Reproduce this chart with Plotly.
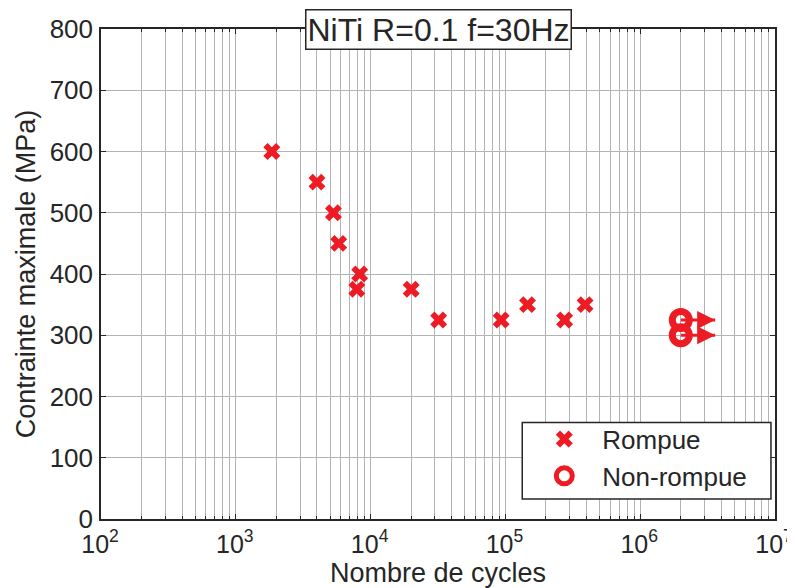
import plotly.graph_objects as go

# Broken specimens (Rompue)
cycles_rompue = [1.85e3, 4.0e3, 5.3e3, 5.8e3, 8.3e3, 7.9e3, 2.0e4, 3.2e4, 9.3e4, 1.46e5, 2.75e5, 3.9e5]
stress_rompue = [600, 550, 500, 450, 400, 375, 375, 325, 325, 350, 325, 350]

# Run-outs (Non-rompue)
cycles_runout = [2.0e6, 2.0e6]
stress_runout = [325, 300]
arrow_factor = 1.8  # arrow end position relative to run-out cycles

x_major = [1e2, 1e3, 1e4, 1e5, 1e6, 1e7]
x_major_text = ["10<sup>2</sup>", "10<sup>3</sup>", "10<sup>4</sup>", "10<sup>5</sup>", "10<sup>6</sup>", "10<sup>7</sup>"]
y_ticks = [0, 100, 200, 300, 400, 500, 600, 700, 800]

RED = "rgb(237,28,36)"
TXT = "#262626"
GRID = "#b3b3b3"
FONT = "Liberation Sans, Arial, Helvetica, sans-serif"

x_minor = [m * 10 ** e for e in range(2, 7) for m in range(2, 10)]

fig = go.Figure()

# arrow lines for run-outs
lx, ly = [], []
for c, s in zip(cycles_runout, stress_runout):
    lx += [c, c * arrow_factor, None]
    ly += [s, s, None]
fig.add_trace(go.Scatter(x=lx, y=ly, mode="lines", line=dict(color=RED, width=3),
                         showlegend=False, hoverinfo="skip"))
fig.add_trace(go.Scatter(x=[c * arrow_factor for c in cycles_runout], y=stress_runout,
                         mode="markers", marker=dict(symbol="arrow-right", size=18, color=RED),
                         showlegend=False, hoverinfo="skip"))

fig.add_trace(go.Scatter(x=cycles_rompue, y=stress_rompue, mode="markers", name="Rompue",
                         marker=dict(symbol="x", size=15, color=RED, line=dict(width=0))))
fig.add_trace(go.Scatter(x=cycles_runout, y=stress_runout, mode="markers", name="Non-rompue",
                         marker=dict(symbol="circle-open", size=17, color=RED, line=dict(width=7, color=RED))))

axis_common = dict(
    showline=True, linecolor=TXT, linewidth=1.5, mirror="allticks",
    ticks="inside", ticklen=5, tickcolor=TXT, automargin=False,
    showgrid=True, gridcolor=GRID, gridwidth=1,
    zeroline=False,
)

fig.update_xaxes(type="log", range=[2, 7], tickvals=x_major, ticktext=x_major_text,
                 minor=dict(tickvals=x_minor, ticks="inside", ticklen=3, tickcolor=TXT,
                            showgrid=True, gridcolor=GRID, gridwidth=1),
                 tickfont=dict(size=25, color=TXT, family=FONT),
                 title=dict(text="Nombre de cycles", font=dict(size=27, color=TXT, family=FONT), standoff=8),
                 ticklabelstandoff=2, ticklabelshift=-1,
                 **axis_common)
fig.update_yaxes(range=[0, 800], tickvals=y_ticks,
                 tickfont=dict(size=26, color=TXT, family=FONT),
                 title=dict(text="Contrainte maximale (MPa)", font=dict(size=27, color=TXT, family=FONT), standoff=6),
                 ticklabelstandoff=1,
                 **axis_common)

fig.add_annotation(text="NiTi R=0.1 f=30Hz", xref="paper", yref="paper", x=0.5, y=1.0,
                   xanchor="center", yanchor="middle", showarrow=False,
                   font=dict(size=32, color=TXT, family=FONT),
                   bgcolor="white", bordercolor=TXT, borderwidth=1.5, borderpad=1)

# legend frame
fig.add_shape(type="rect", xref="paper", yref="paper", x0=0.625, x1=0.994, y0=0.041, y1=0.197,
              line=dict(color=TXT, width=1.5), fillcolor="white", layer="above")

# page body has an 8px margin: shrink the figure so the plot area lands where intended
fig.update_layout(
    width=787, height=580,
    margin=dict(l=93, r=20, t=21, b=69),
    paper_bgcolor="white", plot_bgcolor="white",
    font=dict(family=FONT, color=TXT, size=26),
    legend=dict(x=0.631, y=0.211, xanchor="left", yanchor="top", bgcolor="rgba(0,0,0,0)",
                borderwidth=0, font=dict(size=26, color=TXT, family=FONT), itemwidth=66,
                tracegroupgap=0),
)

fig.write_html("out.html")
